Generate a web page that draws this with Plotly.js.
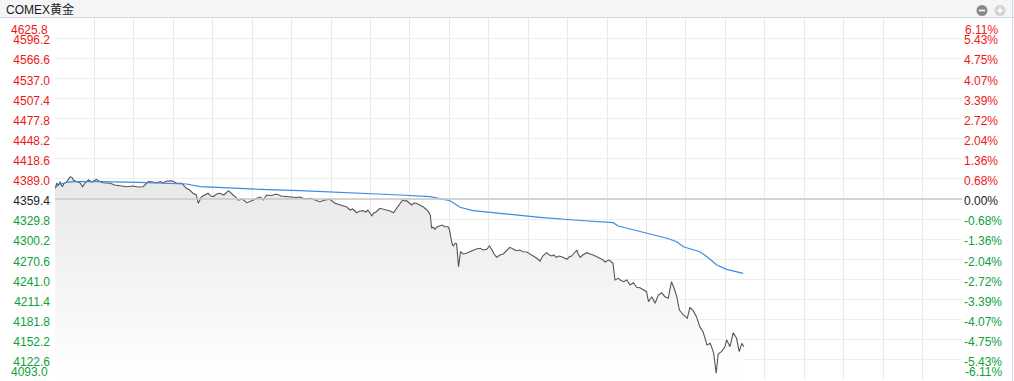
<!DOCTYPE html>
<html><head><meta charset="utf-8">
<script src="https://cdn.plot.ly/plotly-3.0.1.min.js"></script>
<style>html,body{margin:0;padding:0;background:#fff;overflow:hidden}#chart{width:1014px;height:381px;}</style>
</head><body><div id="chart"></div><script>
const title = 'COMEX黄金';
const prevClose = 4359.4;
const sessionMinutes = 1380;
const minutes = [0,3,5,8,11,14,18,21,23,26,28,33,38,42,46,51,56,63,68,73,84,91,99,109,119,126,134,142,148,155,160,165,170,178,185,193,200,205,210,215,218,223,228,233,237,241,246,251,257,264,271,275,279,285,292,297,302,307,312,317,322,329,337,344,353,360,367,373,380,388,396,403,411,418,426,434,439,444,449,453,459,464,469,473,476,482,485,489,494,499,505,510,515,519,522,525,529,532,535,539,543,546,550,555,560,564,568,571,573,575,578,581,586,589,593,598,600,604,606,609,611,614,617,621,626,631,636,641,647,651,657,661,665,668,672,677,682,688,692,697,702,707,712,718,723,727,733,738,742,748,752,756,759,763,767,771,774,779,782,786,790,794,796,799,803,809,814,819,825,829,834,837,842,844,849,852,857,860,865,870,875,880,885,890,895,900,903,908,913,918,923,928,933,938,942,946,950,956,962,966,971,976,981,986,992,997,1002,1006,1009,1014,1019,1022,1027,1032,1037,1041,1045,1048];
const prices = [4374.9,4382.9,4379.3,4384.9,4377.5,4382.5,4384.9,4389.6,4391.8,4391.0,4387.4,4384.9,4383.4,4377.5,4383.4,4387.4,4384.4,4388.4,4385.2,4383.4,4382.5,4380.0,4378.5,4377.5,4378.5,4377.1,4377.5,4384.9,4384.4,4383.4,4385.2,4383.4,4385.9,4386.3,4382.5,4382.5,4375.1,4372.6,4367.8,4365.3,4353.1,4362.8,4365.3,4367.8,4363.8,4363.0,4366.8,4367.8,4365.3,4371.6,4365.3,4362.3,4357.9,4359.4,4354.0,4355.4,4357.9,4360.4,4362.3,4357.9,4365.3,4364.6,4366.8,4363.8,4362.8,4362.0,4361.6,4362.3,4359.4,4360.4,4357.9,4355.4,4357.9,4359.0,4353.1,4350.6,4348.1,4347.6,4343.2,4344.7,4339.2,4341.7,4342.2,4340.3,4343.2,4334.8,4338.8,4340.7,4345.7,4344.7,4343.2,4341.7,4339.2,4344.7,4348.1,4353.5,4357.9,4356.5,4356.9,4353.5,4350.6,4353.5,4353.1,4350.6,4348.1,4344.7,4340.7,4335.9,4316.3,4318.2,4314.8,4318.2,4319.7,4321.1,4318.6,4318.6,4314.8,4294.2,4290.2,4294.2,4293.5,4259.8,4281.8,4278.5,4279.5,4281.8,4283.3,4285.8,4286.8,4284.3,4285.4,4290.2,4284.3,4278.5,4273.6,4277.0,4278.5,4284.3,4288.3,4285.8,4283.3,4284.3,4281.8,4281.4,4278.5,4275.5,4272.1,4268.1,4275.5,4280.4,4277.0,4275.5,4277.0,4273.6,4275.5,4274.5,4272.6,4270.7,4274.0,4275.5,4279.9,4284.3,4278.5,4273.6,4277.0,4280.4,4278.5,4277.0,4274.0,4272.1,4269.6,4266.7,4269.6,4268.9,4264.8,4240.2,4242.7,4240.2,4237.7,4240.2,4232.8,4236.2,4229.4,4228.8,4226.5,4223.0,4208.2,4215.6,4205.9,4218.1,4221.5,4215.6,4213.3,4237.7,4228.0,4215.6,4196.0,4188.7,4183.8,4200.0,4195.0,4186.2,4171.5,4164.1,4144.5,4147.0,4133.2,4102.9,4131.3,4134.7,4141.1,4151.9,4142.0,4162.6,4154.4,4134.7,4147.0,4142.0];
const avgMinutes = [0,5,11,18,30,68,129,180,200,221,271,312,373,449,525,571,586,596,601,611,616,636,687,738,789,829,849,857,880,900,931,946,956,981,992,1007,1022,1047];
const avgPrices = [4375.5,4380.0,4382.2,4384.0,4384.9,4385.0,4384.0,4382.5,4381.5,4377.5,4375.1,4373.7,4371.6,4368.7,4365.3,4362.8,4360.4,4357.9,4356.9,4350.6,4347.2,4342.2,4336.9,4332.5,4328.5,4326.0,4324.5,4319.7,4313.8,4308.9,4301.6,4296.6,4289.2,4281.8,4274.5,4262.3,4255.9,4250.0];
const tickVals = [4625.8,4596.2,4566.6,4537.0,4507.4,4477.8,4448.2,4418.6,4389.0,4359.4,4329.8,4300.2,4270.6,4241.0,4211.4,4181.8,4152.2,4122.6,4093.0];
const leftLabels = ['4625.8','4596.2','4566.6','4537.0','4507.4','4477.8','4448.2','4418.6','4389.0','4359.4','4329.8','4300.2','4270.6','4241.0','4211.4','4181.8','4152.2','4122.6','4093.0'];
const rightLabels = ['6.11%','5.43%','4.75%','4.07%','3.39%','2.72%','2.04%','1.36%','0.68%','0.00%','-0.68%','-1.36%','-2.04%','-2.72%','-3.39%','-4.07%','-4.75%','-5.43%','-6.11%'];

const RED = '#f01616', GREEN = '#0ba23a', NEUTRAL = '#222222';
const FONT = 'Arial, "Liberation Sans", "Noto Sans CJK SC", sans-serif';
function colorFor(v){ return v > prevClose + 1e-6 ? RED : (v < prevClose - 1e-6 ? GREEN : NEUTRAL); }
const yMin = tickVals[tickVals.length-1], yMax = tickVals[0];

// plot area in pixels
const L = 55, R = 962, T = 18, B = 380, W = 1014, H = 381;
const px = x => (x - L) / (R - L);
const py = y => (B - y) / (B - T);

function inner(labels){
  return labels.map((t,i) => (i === 0 || i === labels.length-1) ? '' :
    '<span style="color:' + colorFor(tickVals[i]) + '">' + t + '</span>');
}

const traces = [
  {x: minutes, y: prices, type: 'scatter', mode: 'lines',
   line: {color: '#555555', width: 1.1},
   fill: 'tozeroy',
   fillgradient: {type: 'vertical', start: yMin, stop: 4392,
     colorscale: [[0, '#ffffff'], [1, '#e8e8e8']]},
   hoverinfo: 'skip', showlegend: false},
  {x: avgMinutes, y: avgPrices, type: 'scatter', mode: 'lines', yaxis: 'y2',
   line: {color: '#3f8ae6', width: 1.2},
   hoverinfo: 'skip', showlegend: false}
];

const annotations = [
  {text: title, xref: 'paper', yref: 'paper', x: px(4), y: py(9.5), xanchor: 'left', yanchor: 'middle',
   showarrow: false, font: {family: FONT, size: 12, color: '#1a1a1a'}},
  {text: leftLabels[0], xref: 'paper', yref: 'y', x: px(50), y: tickVals[0], xanchor: 'right', yanchor: 'middle',
   yshift: -12, showarrow: false, font: {family: FONT, size: 12, color: colorFor(tickVals[0])}},
  {text: leftLabels[leftLabels.length-1], xref: 'paper', yref: 'y', x: px(50), y: tickVals[tickVals.length-1], xanchor: 'right', yanchor: 'middle',
   yshift: 8, showarrow: false, font: {family: FONT, size: 12, color: colorFor(tickVals[tickVals.length-1])}},
  {text: rightLabels[0], xref: 'paper', yref: 'y', x: px(963), y: tickVals[0], xanchor: 'left', yanchor: 'middle',
   yshift: -12, showarrow: false, font: {family: FONT, size: 12, color: colorFor(tickVals[0])}},
  {text: rightLabels[rightLabels.length-1], xref: 'paper', yref: 'y', x: px(963), y: tickVals[tickVals.length-1], xanchor: 'left', yanchor: 'middle',
   yshift: 8, showarrow: false, font: {family: FONT, size: 12, color: colorFor(tickVals[tickVals.length-1])}}
];

const shapes = [
  {type: 'rect', xref: 'paper', yref: 'paper', x0: px(0), x1: px(W), y0: py(T), y1: py(0),
   fillcolor: '#f4f5f7', line: {width: 0}, layer: 'below'},
  {type: 'line', xref: 'paper', yref: 'paper', x0: px(0), x1: px(W), y0: py(T - 0.5), y1: py(T - 0.5),
   line: {color: '#d5d8de', width: 1}},
  {type: 'line', xref: 'paper', yref: 'paper', x0: px(1012.5), x1: px(1012.5), y0: py(0), y1: py(H),
   line: {color: '#d5d8de', width: 1}},
  {type: 'line', xref: 'x', yref: 'y', x0: 0, x1: sessionMinutes, y0: prevClose, y1: prevClose,
   line: {color: '#c9c9c9', width: 1.5}},
  // zoom icons
  {type: 'circle', xref: 'paper', yref: 'paper', x0: px(976.5), x1: px(987.5), y0: py(16), y1: py(5),
   fillcolor: '#8a8a8a', line: {width: 0}},
  {type: 'line', xref: 'paper', yref: 'paper', x0: px(979), x1: px(985), y0: py(10.5), y1: py(10.5),
   line: {color: '#ffffff', width: 1.6}},
  {type: 'circle', xref: 'paper', yref: 'paper', x0: px(994.5), x1: px(1005.5), y0: py(16), y1: py(5),
   fillcolor: '#d2d2d2', line: {width: 0}},
  {type: 'line', xref: 'paper', yref: 'paper', x0: px(997), x1: px(1003), y0: py(10.5), y1: py(10.5),
   line: {color: '#ffffff', width: 1.6}},
  {type: 'line', xref: 'paper', yref: 'paper', x0: px(1000), x1: px(1000), y0: py(7.5), y1: py(13.5),
   line: {color: '#ffffff', width: 1.6}}
];

const layout = {
  width: W, height: H,
  margin: {l: L, r: W - R, t: T, b: H - B, pad: 0},
  paper_bgcolor: '#ffffff', plot_bgcolor: '#ffffff',
  showlegend: false,
  font: {family: FONT, size: 12, color: '#222'},
  xaxis: {range: [0, sessionMinutes], tickmode: 'linear', tick0: 0, dtick: 60,
    showgrid: true, gridcolor: '#e8e9ec', gridwidth: 1, showticklabels: false,
    zeroline: false, showline: false, ticks: '', fixedrange: true},
  yaxis: {range: [yMin, yMax], tickmode: 'array', tickvals: tickVals, ticktext: inner(leftLabels),
    showgrid: true, gridcolor: '#eeeef0', gridwidth: 1, zeroline: false, showline: false,
    ticks: '', ticklabelstandoff: 4, ticklabelshift: 2, tickfont: {family: FONT, size: 12}, fixedrange: true},
  yaxis2: {range: [yMin, yMax], overlaying: 'y', side: 'right', tickmode: 'array', tickvals: tickVals,
    ticktext: inner(rightLabels), showgrid: false, zeroline: false, showline: false, ticks: '',
    ticklabelstandoff: 1, ticklabelshift: 2, tickfont: {family: FONT, size: 12}, fixedrange: true},
  annotations: annotations,
  shapes: shapes
};

Plotly.newPlot('chart', traces, layout, {staticPlot: true, displayModeBar: false});
</script></body></html>
